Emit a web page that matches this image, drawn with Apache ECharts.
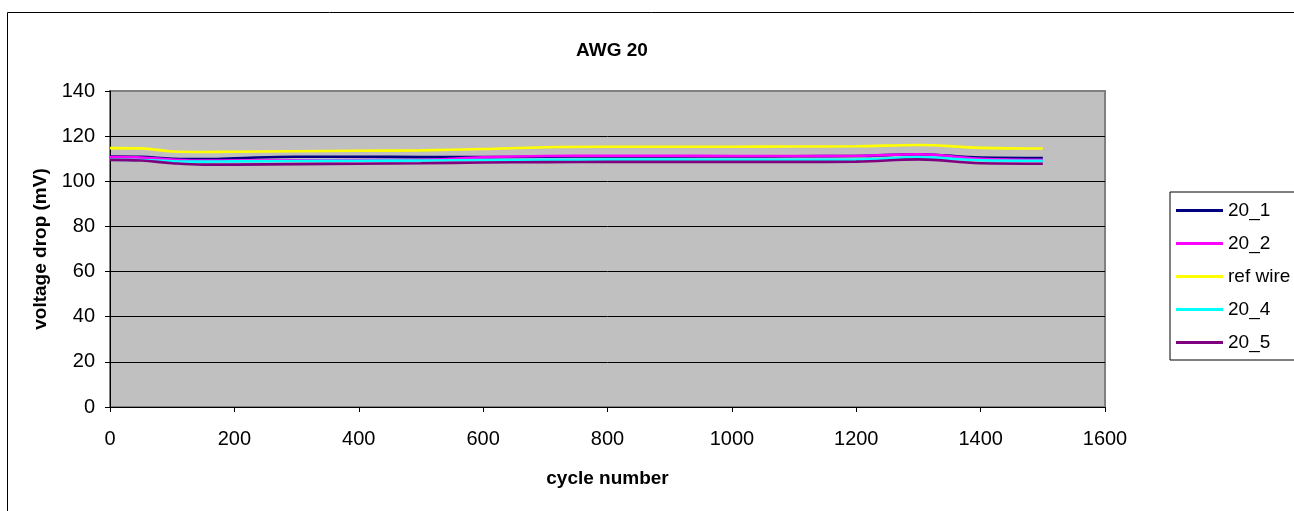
<!DOCTYPE html>
<html>
<head>
<meta charset="utf-8">
<script src="https://cdn.jsdelivr.net/npm/echarts@6/dist/echarts.min.js"></script>
<style>
html,body{margin:0;padding:0;background:#fff;}
#chart{width:1294px;height:511px;}
</style>
</head>
<body>
<div id="chart"></div>
<script>
const titleText = 'AWG 20';
const xAxisName = 'cycle number';
const yAxisName = 'voltage drop (mV)';
const cycles = [0, 50, 100, 150, 200, 300, 400, 500, 600, 700, 800, 900, 1000, 1100, 1200, 1300, 1400, 1500];
const seriesNames = ['20_1', '20_2', 'ref wire', '20_4', '20_5'];
const seriesColors = ['#000080', '#FF00FF', '#FFFF00', '#00FFFF', '#800080'];
const wire20_1 = [111.0, 110.8, 110.0, 109.8, 110.2, 110.9, 110.9, 110.7, 110.7, 110.9, 111.0, 111.0, 111.0, 111.1, 111.2, 112.0, 110.5, 110.3];
const wire20_2 = [110.7, 110.5, 109.6, 109.2, 109.2, 109.3, 109.4, 109.5, 110.6, 111.2, 111.3, 111.3, 111.2, 111.2, 111.3, 112.0, 110.0, 109.5];
const refWire  = [114.7, 114.6, 113.2, 113.0, 113.1, 113.3, 113.5, 113.7, 114.3, 115.1, 115.3, 115.3, 115.3, 115.4, 115.5, 116.1, 114.8, 114.5];
const wire20_4 = [109.6, 109.4, 108.9, 108.7, 108.8, 109.0, 109.1, 109.2, 109.4, 109.5, 109.6, 109.6, 109.5, 109.5, 109.6, 110.6, 109.3, 109.1];
const wire20_5 = [109.5, 109.2, 108.0, 107.4, 107.4, 107.6, 107.8, 108.0, 108.3, 108.5, 108.6, 108.6, 108.6, 108.6, 108.7, 109.7, 108.0, 107.8];
const seriesValues = [wire20_1, wire20_2, refWire, wire20_4, wire20_5];

const FONT = '"Liberation Sans", Arial, sans-serif';
const chart = echarts.init(document.getElementById('chart'), null, {renderer: 'canvas'});

const series = seriesNames.map((name, i) => ({
  name: name,
  type: 'line',
  smooth: 0.4,
  symbol: 'none',
  showSymbol: false,
  data: cycles.map((c, j) => [c, seriesValues[i][j]]),
  lineStyle: {color: seriesColors[i], width: 2.6},
  itemStyle: {color: seriesColors[i]},
  animation: false
}));

chart.setOption({
  animation: false,
  backgroundColor: '#ffffff',
  title: {
    text: titleText,
    left: 607, top: 36, textAlign: 'center',
    textStyle: {fontFamily: FONT, fontSize: 19, fontWeight: 'bold', color: '#000'}
  },
  graphic: [{
    type: 'rect',
    shape: {x: 7.5, y: 12.5, width: 1400, height: 600},
    style: {fill: 'none', stroke: '#000', lineWidth: 1},
    silent: true
  }],
  legend: {
    orient: 'vertical',
    left: 1170, top: 192,
    data: seriesNames,
    icon: 'path://M0,0 L47,0 L47,3 L0,3 Z',
    symbolKeepAspect: true,
    borderColor: '#000', borderWidth: 1,
    padding: [9, 60, 8, 6],
    itemWidth: 47, itemHeight: 20, itemGap: 14,
    textStyle: {fontFamily: FONT, fontSize: 19, color: '#000'}
  },
  grid: {
    left: 110, right: 189, top: 91, bottom: 104,
    show: true, backgroundColor: '#C0C0C0', borderColor: '#808080', borderWidth: 2,
    containLabel: false
  },
  xAxis: {
    type: 'value', min: 0, max: 1600, interval: 200,
    name: xAxisName, nameLocation: 'middle', nameGap: 62,
    nameTextStyle: {fontFamily: FONT, fontSize: 19, fontWeight: 'bold', color: '#000'},
    axisLine: {show: true, onZero: false, lineStyle: {color: '#000', width: 1}},
    axisTick: {show: true, inside: false, length: 5, lineStyle: {color: '#000'}},
    axisLabel: {fontFamily: FONT, fontSize: 20, color: '#000', margin: 22, formatter: v => String(v)},
    splitLine: {show: false}
  },
  yAxis: {
    type: 'value', min: 0, max: 140, interval: 20,
    name: yAxisName, nameLocation: 'middle', nameGap: 60,
    nameTextStyle: {fontFamily: FONT, fontSize: 19, fontWeight: 'bold', color: '#000'},
    axisLine: {show: true, lineStyle: {color: '#000', width: 1}},
    axisTick: {show: true, inside: false, length: 5, lineStyle: {color: '#000'}},
    axisLabel: {fontFamily: FONT, fontSize: 20, color: '#000', margin: 15, formatter: v => String(v)},
    splitLine: {show: true, lineStyle: {color: ['#000','#000','#000','#000','#000','#000','#000','#808080'], width: 1}}
  },
  series: series
});
</script>
</body>
</html>
